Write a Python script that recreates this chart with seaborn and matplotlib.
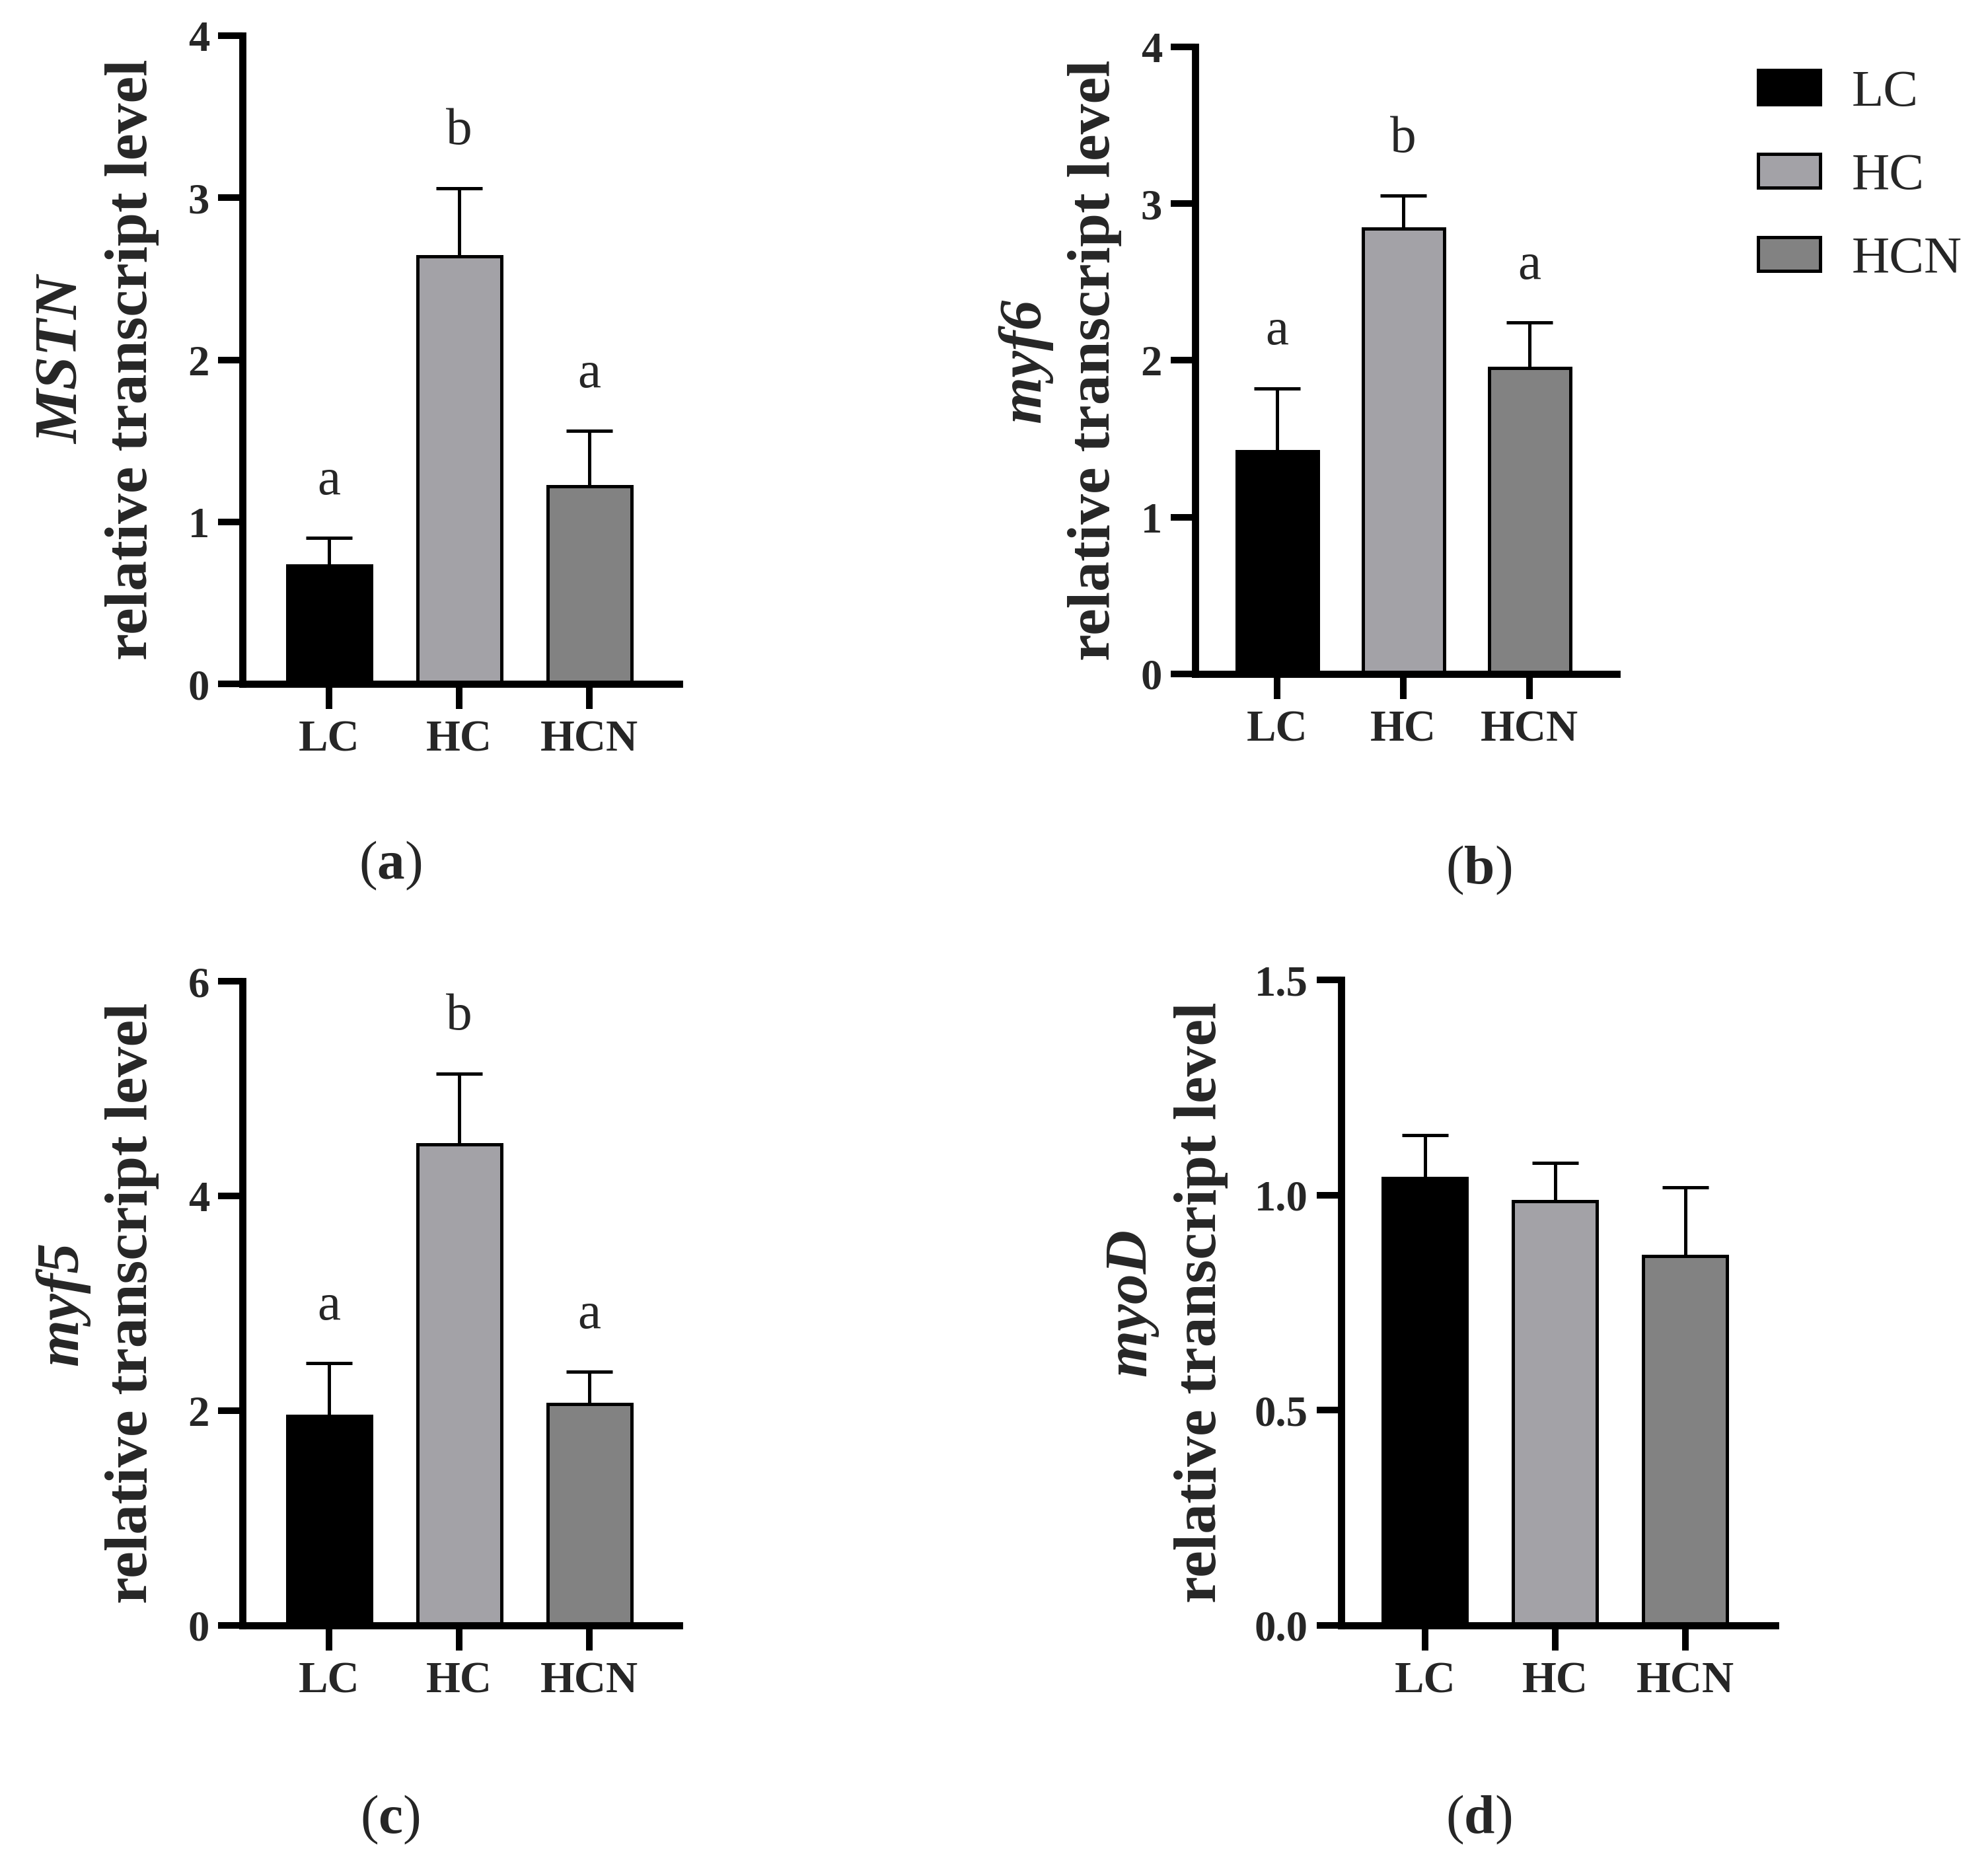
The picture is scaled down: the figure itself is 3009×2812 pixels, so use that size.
import matplotlib
matplotlib.use("Agg")
import matplotlib.pyplot as plt
import seaborn as sns
import pandas as pd
from matplotlib.patches import Patch

# groups and bar colours
groups = ["LC", "HC", "HCN"]
colors = ["#000000", "#A3A2A7", "#828282"]

# means and upper SEM
mstn_mean = [0.73, 2.64, 1.22]
mstn_sem = [0.17, 0.42, 0.34]
mstn_letters = ["a", "b", "a"]

myf6_mean = [1.42, 2.84, 1.95]
myf6_sem = [0.40, 0.21, 0.29]
myf6_letters = ["a", "b", "a"]

myf5_mean = [1.95, 4.48, 2.06]
myf5_sem = [0.49, 0.66, 0.30]
myf5_letters = ["a", "b", "a"]

myod_mean = [1.04, 0.985, 0.858]
myod_sem = [0.10, 0.09, 0.16]
myod_letters = ["", "", ""]

sns.set_style("ticks")
plt.rcParams['font.family'] = ['Liberation Serif', 'DejaVu Serif']
plt.rcParams['mathtext.fontset'] = 'custom'
plt.rcParams['mathtext.rm'] = 'Liberation Serif'
plt.rcParams['mathtext.bf'] = 'Liberation Serif:bold'
plt.rcParams['axes.linewidth'] = 2.6

fig = plt.figure(figsize=(3009 / 300, 2812 / 300), dpi=300)


def draw_panel(rect, means, sems, letters, gene, yticks, ylabels, xlim, lab_off):
    ax = fig.add_axes(rect)
    df = pd.DataFrame({"group": groups, "value": means})
    sns.barplot(data=df, x="group", y="value", hue="group", order=groups,
                hue_order=groups, palette=colors, saturation=1, width=0.645,
                edgecolor="black", linewidth=1.2, errorbar=None, legend=False, ax=ax)
    ax.errorbar(range(len(groups)), means, yerr=[[0] * len(groups), sems], fmt="none",
                ecolor="black", elinewidth=1.2, capsize=8.3, capthick=1.2, zorder=3)
    for i, (m, s, l) in enumerate(zip(means, sems, letters)):
        if l:
            ax.annotate(l, xy=(i, m + s), xytext=(0, 16), textcoords="offset points",
                        ha="center", va="baseline", fontsize=19)
    ax.set_xlim(*xlim)
    ax.set_ylim(yticks[0], yticks[-1])
    ax.set_yticks(yticks, ylabels, fontweight="bold")
    ax.set_xticks(range(len(groups)), groups, fontweight="bold")
    ax.set_xlabel("")
    ax.set_ylabel("")
    ax.tick_params(axis="both", width=2.4, length=9, color="black")
    ax.tick_params(axis="y", pad=3, labelsize=15.5)
    ax.tick_params(axis="x", pad=4, labelsize=16)
    sns.despine(ax=ax)
    for sp in ["left", "bottom"]:
        ax.spines[sp].set_color("black")
        ax.spines[sp].set_linewidth(2.6)
    ax.annotate(gene, xy=(0, 0.5), xycoords="axes fraction", xytext=(lab_off - 25.4, 0),
                textcoords="offset points", rotation=90, ha="center", va="center",
                fontsize=22, fontweight="bold", fontstyle="italic")
    ax.annotate("relative transcript level", xy=(0, 0.5), xycoords="axes fraction",
                xytext=(lab_off, 0), textcoords="offset points", rotation=90,
                ha="center", va="center", fontsize=22, fontweight="bold")
    return ax


draw_panel([0.1220, 0.6319, 0.2197, 0.3489], mstn_mean, mstn_sem, mstn_letters, "MSTN",
           [0, 1, 2, 3, 4], ["0", "1", "2", "3", "4"], (-0.665, 2.69), -40.0)
draw_panel([0.6012, 0.6373, 0.2120, 0.3375], myf6_mean, myf6_sem, myf6_letters, "myf6",
           [0, 1, 2, 3, 4], ["0", "1", "2", "3", "4"], (-0.65, 2.69), -36.5)
draw_panel([0.1220, 0.1252, 0.2197, 0.3467], myf5_mean, myf5_sem, myf5_letters, "myf5",
           [0, 2, 4, 6], ["0", "2", "4", "6"], (-0.665, 2.69), -40.0)
draw_panel([0.6746, 0.1252, 0.2183, 0.3474], myod_mean, myod_sem, myod_letters, "myoD",
           [0, 0.5, 1.0, 1.5], ["0.0", "0.5", "1.0", "1.5"], (-0.645, 2.69), -50.8)

# panel letters
fig.text(0.1964, 0.5341, r"$(\mathbf{a})$", ha="center", va="center", fontsize=20)
fig.text(0.7438, 0.5316, r"$(\mathbf{b})$", ha="center", va="center", fontsize=20)
fig.text(0.1961, 0.0206, r"$(\mathbf{c})$", ha="center", va="center", fontsize=20)
fig.text(0.7438, 0.0206, r"$(\mathbf{d})$", ha="center", va="center", fontsize=20)

handles = [Patch(facecolor=c, edgecolor="black", linewidth=1.2) for c in colors]
fig.legend(handles, groups, loc="upper left", bbox_to_anchor=(0.8845, 0.9625),
           frameon=False, fontsize=19, handlelength=1.18, handleheight=0.62,
           handletextpad=0.6, labelspacing=0.69, borderpad=0, borderaxespad=0)

fig.savefig("out.png", dpi=300, facecolor="white")
